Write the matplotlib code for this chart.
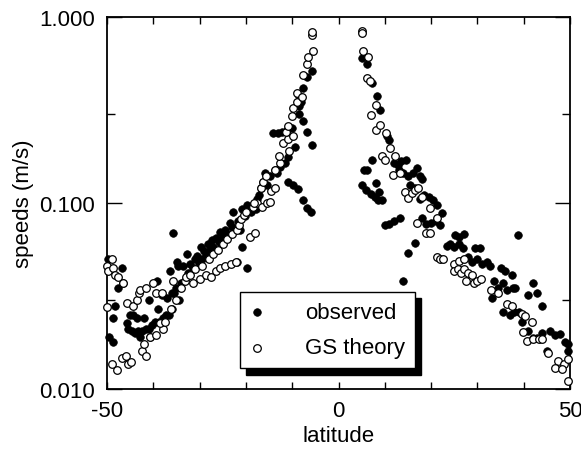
import matplotlib
matplotlib.use("Agg")
import matplotlib.pyplot as plt
from matplotlib.ticker import FixedLocator, NullFormatter, FixedFormatter

plt.rcParams['font.family'] = ['Liberation Sans', 'DejaVu Sans']

# observed (filled)
obs_lat = [-49.8, -49.5, -48.8, -48.6, -48.3, -47.6, -46.8, -46.6,
           -45.7, -45.5, -45.0, -44.7, -44.3, -43.9, -43.5, -43.2, -42.9, -42.5, -42.1, -41.6,
           -41.0, -40.9, -40.7, -40.2, -39.7, -39.3, -38.9, -38.8, -38.2, -38.0, -37.3, -37.1, -36.6,
           -36.4, -36.0, -35.9, -35.7, -35.5, -35.0, -34.9, -34.7, -34.5, -34.0, -33.5, -32.8, -32.5,
           -32.0, -31.5, -31.0, -30.5, -30.2, -29.8, -29.5, -29.0, -28.7, -28.2, -27.8, -27.3,
           -27.0, -26.5, -25.9, -25.5, -25.0, -24.5, -24.0, -23.5, -23.0, -22.8, -22.0, -21.7,
           -21.3, -20.9, -20.8, -20.3, -19.8, -19.8, -19.0, -18.5, -17.8, -17.7, -17.2, -16.7,
           -16.2, -15.9, -15.4, -14.8, -14.1, -13.8, -13.3, -13.0, -12.6, -12.1, -11.6, -11.2,
           -10.9, -10.8, -10.1, -9.8, -9.5, -8.7, -8.5, -8.5, -8.5, -8.0, -7.7, -7.7, -7.6,
           -6.9, -6.9, -6.9, -6.0, -5.8, -5.8,
           5.0, 6.1, 7.2, 8.3, 9.0, 10.4, 10.8, 7.2, 5.4, 6.1, 5.0, 6.0, 7.0, 7.8, 8.5, 9.3,
           8.0, 8.8, 12.0, 12.8, 13.5, 14.5, 13.0, 14.0, 15.0, 16.0, 17.0, 17.5, 18.0, 15.5,
           16.5, 17.5, 18.5, 19.5, 20.5, 21.2, 22.3, 10.0, 11.0, 12.0, 13.3, 16.5, 15.1, 14.0,
           18.0, 19.0, 20.0, 21.0, 22.0, 23.4, 24.0, 25.0, 26.0, 26.9, 25.2, 26.0, 27.0, 28.0,
           28.8, 29.5, 30.0, 30.5, 31.0, 32.0, 32.8, 33.1, 33.5, 34.5, 35.5, 36.5, 37.6, 35.0,
           36.0, 37.5, 38.1, 38.8, 35.6, 37.0, 38.0, 39.0, 39.9, 42.1, 42.8, 41.0, 43.9, 39.6,
           41.0, 42.0, 42.8, 45.7, 46.8, 47.8, 48.9, 49.6, 49.6, 45.0, 44.0]
obs_val = [0.050, 0.019, 0.018, 0.024, 0.028, 0.035, 0.045, 0.037,
           0.0225, 0.021, 0.025, 0.0205, 0.025, 0.020, 0.024, 0.0205, 0.019, 0.0205, 0.024, 0.021,
           0.021, 0.030, 0.019, 0.022, 0.023, 0.038, 0.027, 0.023, 0.032, 0.024, 0.025, 0.031, 0.025,
           0.043, 0.033, 0.027, 0.069, 0.033, 0.035, 0.048, 0.046, 0.030, 0.037, 0.046, 0.053, 0.042,
           0.047, 0.045, 0.050, 0.052, 0.047, 0.058, 0.050, 0.055, 0.052, 0.060, 0.056, 0.063,
           0.058, 0.065, 0.062, 0.070, 0.066, 0.072, 0.068, 0.078, 0.074, 0.090, 0.048, 0.080,
           0.072, 0.058, 0.093, 0.085, 0.0445, 0.098, 0.090, 0.098, 0.093, 0.105, 0.110, 0.120,
           0.130, 0.145, 0.125, 0.140, 0.239, 0.150, 0.145, 0.239, 0.157, 0.242, 0.164, 0.248,
           0.177, 0.129, 0.254, 0.125, 0.200, 0.119, 0.300, 0.331, 0.375, 0.350, 0.104, 0.417, 0.275,
           0.240, 0.094, 0.478, 0.090, 0.204, 0.510,
           0.605, 0.557, 0.443, 0.375, 0.318, 0.228, 0.219, 0.171, 0.151, 0.151, 0.125, 0.118,
           0.112, 0.108, 0.104, 0.104, 0.128, 0.115, 0.165, 0.160, 0.168, 0.170, 0.150, 0.145,
           0.140, 0.145, 0.155, 0.140, 0.135, 0.125, 0.120, 0.105, 0.110, 0.108, 0.104, 0.097,
           0.088, 0.076, 0.077, 0.080, 0.083, 0.061, 0.054, 0.038, 0.083, 0.077, 0.078, 0.080,
           0.076, 0.059, 0.060, 0.058, 0.060, 0.057, 0.067, 0.066, 0.068, 0.051, 0.048, 0.057,
           0.050, 0.057, 0.047, 0.048, 0.046, 0.031, 0.038, 0.035, 0.037, 0.034, 0.035, 0.045,
           0.043, 0.041, 0.035, 0.067, 0.026, 0.025, 0.026, 0.026, 0.025, 0.037, 0.033, 0.032,
           0.028, 0.0228, 0.0206, 0.0187, 0.0187, 0.0206, 0.0194, 0.0198, 0.0178, 0.0174, 0.016,
           0.016, 0.020]

# GS theory (open)
gs_lat = [-49.9, -49.7, -49.0, -48.6, -48.3, -47.6, -46.5, -50.0, -49.0, -47.9, -46.8, -46.0,
          -45.4, -44.8, -45.7, -44.3, -43.6, -43.0, -42.5, -42.0, -41.6, -42.9, -41.5, -40.0,
          -39.5, -38.2, -40.7, -39.5, -37.9, -38.5, -37.5, -36.2, -35.7, -35.0, -34.0, -33.2,
          -33.0, -32.0, -31.5, -31.0, -30.0, -29.5, -28.7, -28.0, -27.5, -27.0, -26.5, -26.0,
          -25.5, -25.0, -24.5, -24.0, -23.2, -23.0, -22.2, -22.0, -21.5, -21.0, -20.5, -20.0,
          -19.1, -18.0, -18.5, -17.5, -16.5, -15.5, -14.9, -14.6, -13.7, -18.2, -16.8, -16.2,
          -15.6, -13.8, -12.6, -12.9, -10.7, -12.0, -11.0, -9.8, -11.4, -10.8, -10.1, -9.8,
          -8.9, -8.9, -7.9, -7.7, -6.7, -6.5, -5.6, -5.7, -5.7,
          5.0, 5.0, 5.2, 6.4, 6.1, 6.8, 8.2, 7.0, 8.1, 9.0, 10.3, 11.1, 9.3, 10.0, 12.2, 11.8,
          13.3, 14.4, 15.0, 15.8, 16.5, 17.2, 18.0, 19.8, 21.2, 16.9, 19.0, 19.8, 21.2, 21.9,
          22.5, 25.0, 26.0, 27.0, 25.0, 25.8, 26.5, 27.2, 28.0, 28.8, 27.5, 29.3, 30.0, 30.8,
          33.0, 34.5, 36.3, 37.4, 39.6, 40.3, 41.7, 39.9, 40.7, 42.1, 43.2, 43.9, 45.3, 47.5,
          48.6, 46.8, 48.2, 49.6, 49.6]
gs_val = [0.046, 0.043, 0.050, 0.045, 0.041, 0.040, 0.037, 0.0275, 0.0136, 0.0126, 0.0147, 0.0150,
          0.0137, 0.0140, 0.029, 0.028, 0.030, 0.033, 0.016, 0.0175, 0.015, 0.034, 0.035, 0.037,
          0.033, 0.033, 0.019, 0.0195, 0.021, 0.0225, 0.023, 0.027, 0.038, 0.030, 0.035, 0.038,
          0.040, 0.041, 0.037, 0.044, 0.039, 0.046, 0.041, 0.050, 0.040, 0.053, 0.043, 0.056,
          0.045, 0.060, 0.046, 0.064, 0.047, 0.068, 0.048, 0.072, 0.076, 0.082, 0.086, 0.090,
          0.066, 0.069, 0.095, 0.100, 0.095, 0.100, 0.101, 0.116, 0.120, 0.100, 0.120, 0.130,
          0.140, 0.150, 0.165, 0.180, 0.190, 0.210, 0.220, 0.230, 0.240, 0.260, 0.292, 0.326,
          0.347, 0.389, 0.373, 0.490, 0.560, 0.610, 0.660, 0.800, 0.830,
          0.840, 0.820, 0.660, 0.610, 0.468, 0.452, 0.338, 0.299, 0.248, 0.264, 0.239, 0.198,
          0.178, 0.171, 0.178, 0.142, 0.145, 0.115, 0.107, 0.113, 0.117, 0.120, 0.108, 0.094,
          0.083, 0.078, 0.069, 0.069, 0.051, 0.050, 0.050, 0.047, 0.049, 0.050, 0.043, 0.044,
          0.042, 0.044, 0.042, 0.041, 0.038, 0.037, 0.038, 0.039, 0.034, 0.033, 0.0287, 0.0281,
          0.0254, 0.0248, 0.0229, 0.0202, 0.0182, 0.0185, 0.0185, 0.0185, 0.0157, 0.0142,
          0.0136, 0.0130, 0.0128, 0.0145, 0.0110]

legend_labels = ["observed", "GS theory"]
xtick_vals = [-50, -40, -30, -20, -10, 0, 10, 20, 30, 40, 50]
xtick_labels = ["-50", "", "", "", "", "0", "", "", "", "", "50"]
ytick_vals = [0.01, 0.1, 1.0]
ytick_labels = ["0.010", "0.100", "1.000"]
yminor_vals = [0.03, 0.3]

fig = plt.figure(figsize=(5.81, 4.52), dpi=100)
ax = fig.add_axes([107/581, (452-390)/452, (570-107)/581, (390-18)/452])

ax.scatter(obs_lat, obs_val, s=30, facecolor='black', edgecolor='black',
           linewidth=0.5, label=legend_labels[0], zorder=3, clip_on=False)
ax.scatter(gs_lat, gs_val, s=30, facecolor='white', edgecolor='black',
           linewidth=0.9, label=legend_labels[1], zorder=4, clip_on=False)

ax.set_yscale('log')
ax.set_xlim(-50, 50)
ax.set_ylim(0.01, 1.0)

ax.xaxis.set_major_locator(FixedLocator(xtick_vals))
ax.xaxis.set_major_formatter(FixedFormatter(xtick_labels))
ax.yaxis.set_major_locator(FixedLocator(ytick_vals))
ax.yaxis.set_major_formatter(FixedFormatter(ytick_labels))
ax.yaxis.set_minor_locator(FixedLocator(yminor_vals))
ax.yaxis.set_minor_formatter(NullFormatter())

ax.tick_params(axis='both', which='major', direction='in', top=True, right=True,
               labelsize=16, width=1.0)
ax.tick_params(axis='x', which='major', length=5, pad=8)
ax.tick_params(axis='y', which='major', length=11, pad=8.5)
ax.tick_params(axis='y', which='minor', direction='in', right=True, length=6, width=1.0)

for sp in ax.spines.values():
    sp.set_linewidth(1.3)

ax.set_xlabel("latitude", fontsize=16, labelpad=3)
ax.set_ylabel("speeds (m/s)", fontsize=16, labelpad=4)

leg = ax.legend(loc='upper left', bbox_to_anchor=(0.287, 0.262), borderaxespad=0,
                fontsize=16, frameon=True, fancybox=False, edgecolor='black', framealpha=1,
                handletextpad=1.85, borderpad=0.45, labelspacing=0.67, handlelength=0.63,
                markerscale=1.0,
                shadow={'ox': 4.5, 'oy': -4.5, 'color': 'black', 'alpha': 1.0})
leg.get_frame().set_linewidth(1.0)
leg.set_zorder(10)

fig.savefig("out.png", dpi=100)
